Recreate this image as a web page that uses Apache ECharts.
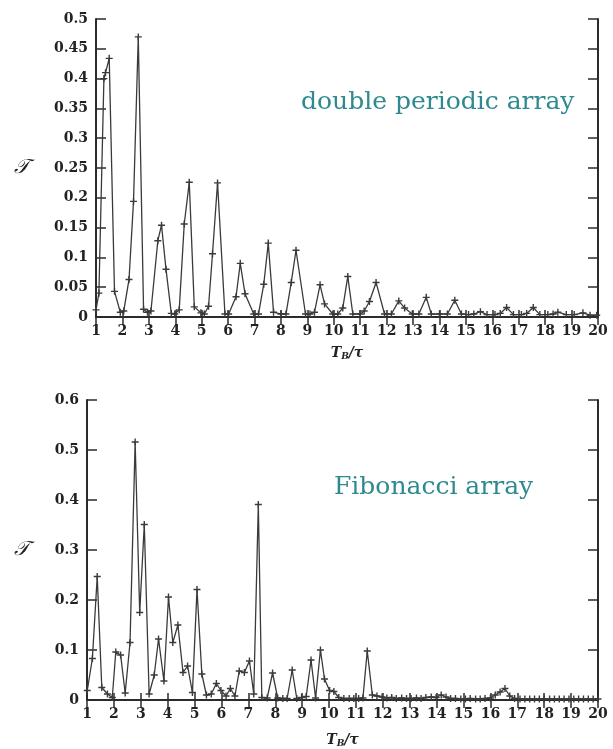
<!DOCTYPE html>
<html><head><meta charset="utf-8">
<script src="https://cdn.jsdelivr.net/npm/echarts@6/dist/echarts.min.js"></script>
<style>html,body{margin:0;padding:0;background:#fff}#c{width:613px;height:749px}</style>
</head><body><div id="c"></div>
<script>
// top panel: double periodic array
const topX = [1.0,1.11,1.3,1.36,1.5,1.7,1.92,2.05,2.25,2.42,2.6,2.8,2.95,3.08,3.34,3.48,3.65,3.85,3.98,4.15,4.34,4.53,4.72,4.97,5.1,5.26,5.41,5.6,5.88,6.02,6.3,6.46,6.64,6.97,7.15,7.35,7.52,7.72,8.0,8.19,8.39,8.57,8.93,9.1,9.27,9.48,9.65,9.96,10.15,10.34,10.53,10.72,11.0,11.15,11.35,11.6,11.92,12.18,12.46,12.68,12.97,13.22,13.5,13.69,14.0,14.3,14.58,14.83,15.1,15.3,15.55,15.8,16.1,16.3,16.54,16.8,17.1,17.3,17.55,17.8,18.1,18.3,18.48,18.8,19.1,19.43,19.7,19.95];
const topY = [0.012,0.04,0.40,0.41,0.434,0.043,0.008,0.01,0.063,0.194,0.47,0.013,0.008,0.01,0.128,0.154,0.08,0.006,0.005,0.012,0.156,0.226,0.017,0.007,0.005,0.018,0.106,0.225,0.005,0.005,0.034,0.09,0.039,0.005,0.005,0.055,0.124,0.008,0.005,0.005,0.058,0.112,0.005,0.005,0.008,0.054,0.022,0.005,0.005,0.015,0.068,0.005,0.005,0.01,0.026,0.058,0.005,0.005,0.027,0.015,0.005,0.005,0.033,0.005,0.005,0.005,0.028,0.005,0.004,0.005,0.009,0.004,0.004,0.006,0.016,0.004,0.004,0.006,0.016,0.004,0.004,0.005,0.008,0.004,0.004,0.007,0.003,0.003];
// bottom panel: Fibonacci array
const botX = [1.01,1.2,1.38,1.55,1.76,1.94,2.07,2.25,2.42,2.6,2.79,2.96,3.13,3.31,3.5,3.66,3.86,4.03,4.19,4.38,4.57,4.74,4.92,5.09,5.27,5.44,5.62,5.81,5.98,6.17,6.33,6.5,6.66,6.85,7.04,7.2,7.37,7.5,7.7,7.9,8.09,8.28,8.44,8.63,8.8,8.98,9.15,9.33,9.5,9.68,9.83,10.02,10.18,10.36,10.55,10.75,10.92,11.1,11.26,11.42,11.61,11.78,11.97,12.15,12.33,12.5,12.7,12.88,13.05,13.25,13.42,13.6,13.8,13.98,14.17,14.35,14.52,14.7,14.9,15.07,15.25,15.45,15.62,15.8,16.0,16.18,16.36,16.54,16.72,16.9,17.1,17.28,17.46,17.64,17.82,18.0,18.2,18.38,18.56,18.74,18.92,19.1,19.28,19.46,19.64,19.82,20.0];
const botY = [0.019,0.083,0.247,0.025,0.012,0.005,0.096,0.09,0.014,0.115,0.516,0.175,0.351,0.012,0.05,0.122,0.038,0.206,0.115,0.15,0.055,0.068,0.015,0.221,0.052,0.01,0.012,0.033,0.019,0.008,0.023,0.008,0.058,0.055,0.078,0.012,0.391,0.005,0.004,0.054,0.004,0.003,0.003,0.06,0.003,0.005,0.007,0.08,0.004,0.1,0.042,0.019,0.017,0.005,0.003,0.003,0.003,0.003,0.004,0.098,0.01,0.008,0.006,0.004,0.005,0.003,0.004,0.003,0.003,0.004,0.003,0.005,0.006,0.005,0.01,0.006,0.003,0.003,0.002,0.002,0.003,0.002,0.002,0.003,0.004,0.01,0.016,0.023,0.008,0.003,0.002,0.002,0.002,0.002,0.002,0.002,0.002,0.002,0.002,0.002,0.002,0.002,0.002,0.002,0.002,0.002,0.002];
const xTicks = [1,20,1];
const topYTicks = [0,0.5,0.05];
const botYTicks = [0,0.6,0.1];
const labels = ['double periodic array','Fibonacci array'];

const ink = '#2b2b2b';
const teal = '#2f8a8f';
const tickFont = {fontFamily:'DejaVu Serif',fontWeight:'bold',fontSize:14,color:'#222'};
const plus = 'path://M4,0H6V4H10V6H6V10H4V6H0V4H4Z';
const zip = (xs,ys)=>xs.map((x,i)=>[x,ys[i]]);
const fmt = v => String(+v.toFixed(2));

function axesFor(gi, yt, yNameGap, xNameGap){
  const xs = [
    {gridIndex:gi,type:'value',min:xTicks[0],max:xTicks[1],interval:xTicks[2],
     axisLine:{lineStyle:{color:ink,width:2}},axisTick:{inside:true,length:7,lineStyle:{color:ink,width:1.5}},
     axisLabel:Object.assign({margin:7},tickFont),splitLine:{show:false},
     name:'{i|T}{s|B}{i|/τ}',nameLocation:'middle',nameGap:xNameGap,
     nameTextStyle:{rich:{i:{fontFamily:'DejaVu Serif',fontStyle:'italic',fontWeight:'bold',fontSize:14,color:'#222'},
                          s:{fontFamily:'DejaVu Serif',fontStyle:'italic',fontWeight:'bold',fontSize:9,color:'#222',verticalAlign:'bottom',padding:[6,0,0,0]}}}},
    {gridIndex:gi,type:'value',position:'top',min:xTicks[0],max:xTicks[1],interval:xTicks[2],
     axisLine:{lineStyle:{color:ink,width:2}},axisTick:{inside:true,length:8,lineStyle:{color:ink,width:1.5}},
     axisLabel:{show:false},splitLine:{show:false}}
  ];
  const ys = [
    {gridIndex:gi,type:'value',min:yt[0],max:yt[1],interval:yt[2],
     axisLine:{lineStyle:{color:ink,width:2}},axisTick:{inside:true,length:10,lineStyle:{color:ink,width:1.5}},
     axisLabel:Object.assign({margin:8,formatter:fmt},tickFont),splitLine:{show:false},
     name:'𝒯',nameLocation:'middle',nameGap:yNameGap,nameRotate:0,
     nameTextStyle:{fontFamily:'DejaVu Serif',fontStyle:'italic',fontSize:20,color:'#222'}},
    {gridIndex:gi,type:'value',position:'right',min:yt[0],max:yt[1],interval:yt[2],
     axisLine:{lineStyle:{color:ink,width:2}},axisTick:{inside:true,length:10,lineStyle:{color:ink,width:1.5}},
     axisLabel:{show:false},splitLine:{show:false}}
  ];
  return {xs,ys};
}
const a0 = axesFor(0, topYTicks, 67, 29);
const a1 = axesFor(1, botYTicks, 58, 33);

const chart = echarts.init(document.getElementById('c'),null,{renderer:'canvas'});
chart.setOption({
  animation:false,
  backgroundColor:'#fff',
  grid:[{left:96,top:19,width:502,height:298},{left:87,top:400,width:511,height:301}],
  xAxis:[...a0.xs,...a1.xs],
  yAxis:[...a0.ys,...a1.ys],
  series:[
    {type:'line',xAxisIndex:0,yAxisIndex:0,data:zip(topX,topY),symbol:plus,symbolSize:7,
     lineStyle:{color:'#3a3a3a',width:1.3},itemStyle:{color:'#3a3a3a'}},
    {type:'line',xAxisIndex:2,yAxisIndex:2,data:zip(botX,botY),symbol:plus,symbolSize:7,
     lineStyle:{color:'#3a3a3a',width:1.3},itemStyle:{color:'#3a3a3a'}}
  ],
  graphic:[
    {type:'text',left:301,top:90,style:{text:labels[0],fill:teal,font:'25px "DejaVu Serif"'}},
    {type:'text',left:334,top:475,style:{text:labels[1],fill:teal,font:'25px "DejaVu Serif"'}}
  ]
});
</script></body></html>
